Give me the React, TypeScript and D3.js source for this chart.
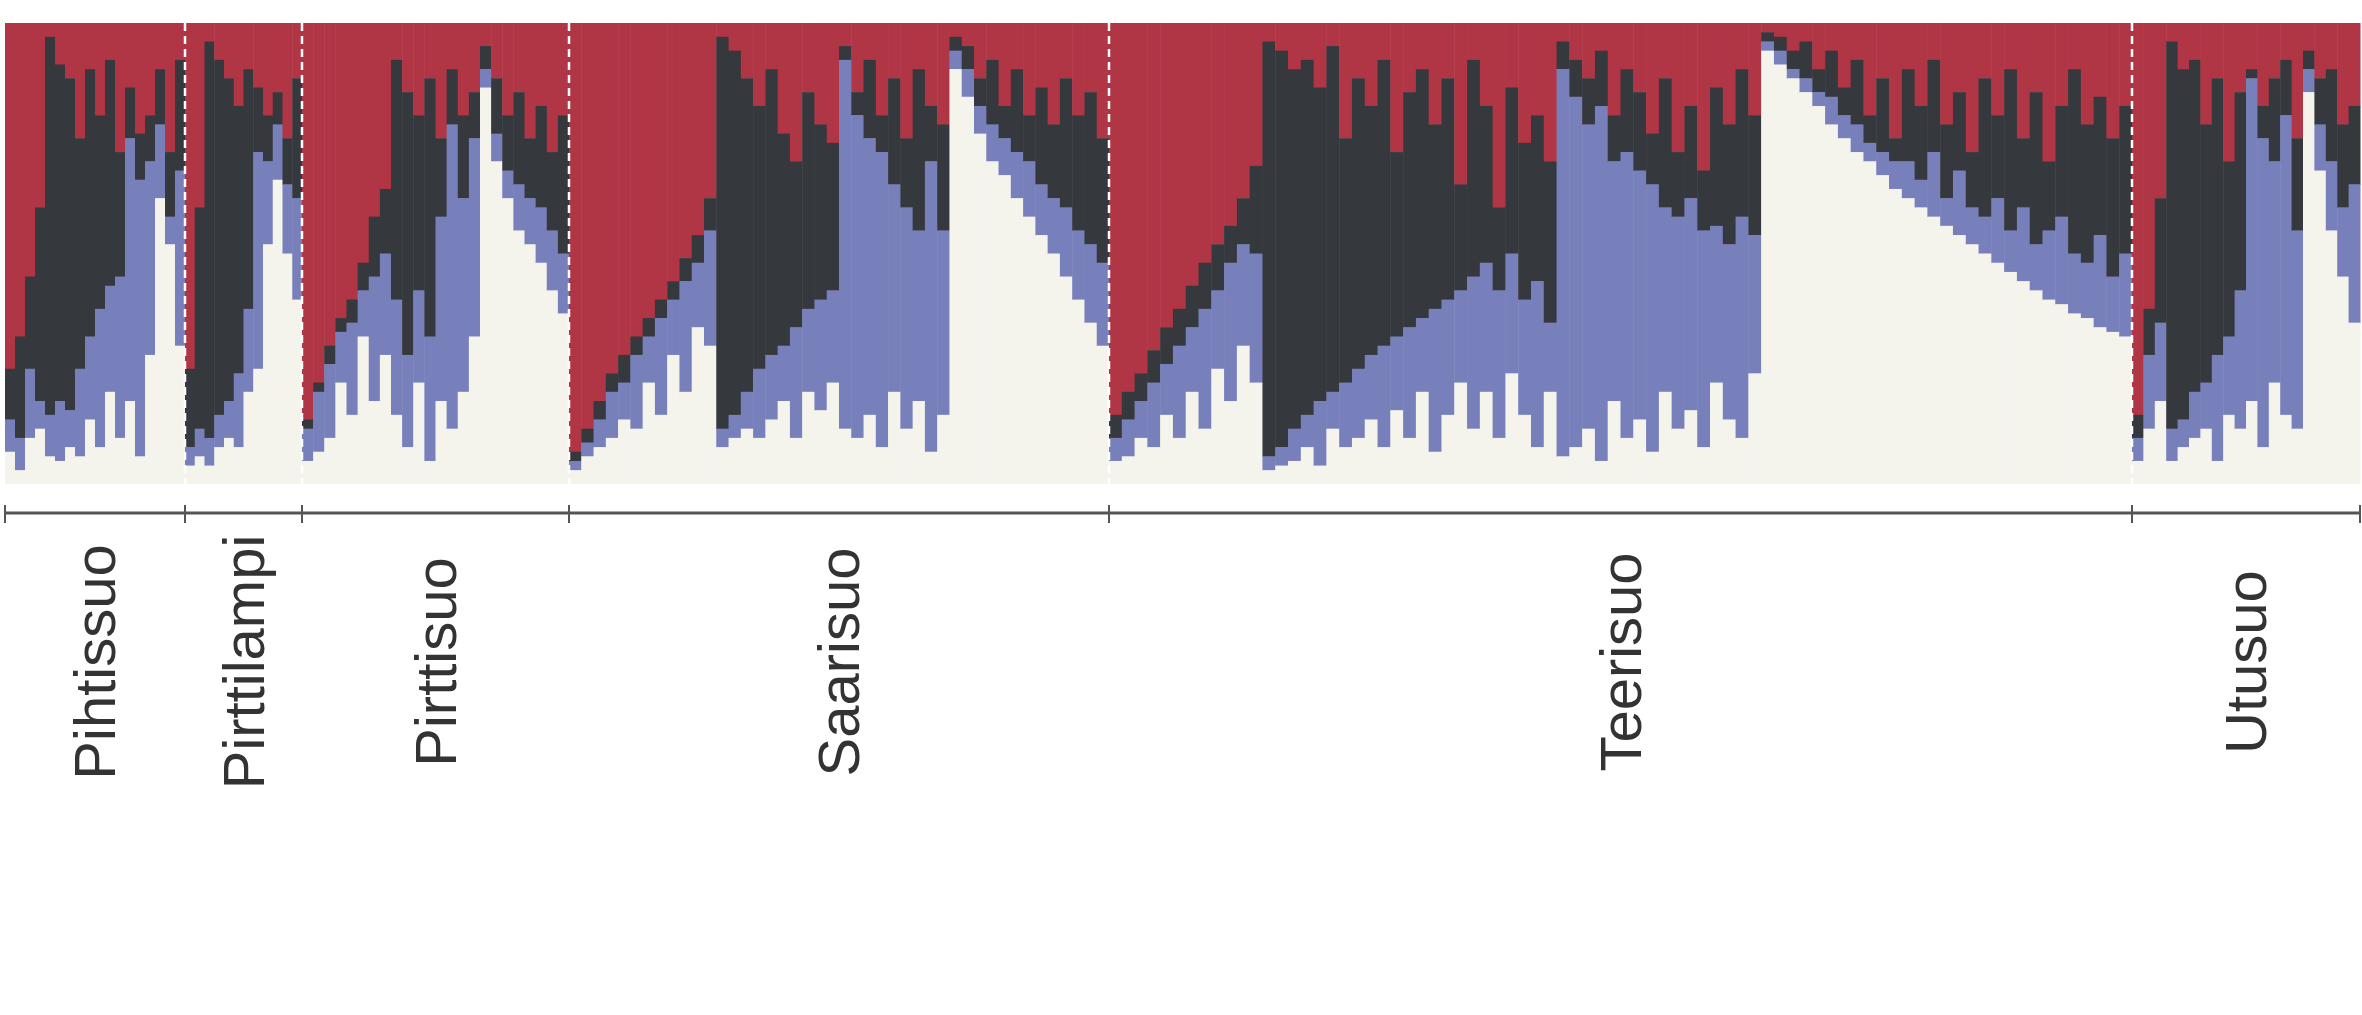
import { useEffect, useRef } from 'react';
import * as d3 from 'd3';

// populations and their sample sizes (individuals)
const populations = ['Pihtissuo', 'Pirttilampi', 'Pirttisuo', 'Saarisuo', 'Teerisuo', 'Utusuo'];
const sampleSizes = [60, 39, 89, 180, 341, 76];

// ancestry proportions (%) per plotted bar: [red, dark, blue], cream = remainder
const pihtissuo = [[75,11,7],[68,22,7],[55,20,15],[40,42,6],[3,82,9],[9,73,13],[12,72,8],[25,50,19],[10,58,18],[20,42,30],[8,49,23],[28,27,35],[14,11,57],[24,10,60],[20,10,42],[10,12,16],[28,14,6],[8,24,38]];
const pirttilampi = [[75,17,4],[40,48,6],[4,86,6],[8,77,7],[12,70,8],[18,58,16],[10,52,18],[14,14,47],[20,10,18],[15,7,12],[25,10,15],[12,26,22]];
const pirttisuo = [[86,2,7],[78,2,13],[70,4,16],[64,3,11],[60,5,20],[52,6,10],[42,13,27],[36,14,22],[8,52,25],[15,57,20],[20,38,20],[12,56,27],[25,17,40],[10,12,66],[20,18,42],[15,10,43],[5,5,4],[12,12,6],[20,12,6],[15,20,10],[25,13,10],[18,22,12],[28,17,13],[20,30,13]];
const saarisuo = [[93,2,2],[88,3,3],[82,4,6],[76,4,10],[72,6,8],[68,4,16],[64,4,10],[60,4,21],[56,4,12],[51,5,24],[46,6,14],[38,7,25],
  [3,85,4],[6,79,5],[12,68,8],[18,57,15],[10,62,14],[24,46,12],[30,36,24],[15,47,18],[22,38,24],[26,32,20],
  [5,3,80],[15,5,70],[8,17,60],[20,8,64],[12,23,45],[25,15,48],[10,35,37],[18,12,63],[22,23,40],
  [3,3,4],[5,5,6],[12,6,6],[8,14,8],[18,7,8],[10,18,10],[20,10,12],[14,21,11],[22,16,12],[12,28,15],[20,25,15],[15,33,17],[25,27,18]];
const teerisuo = [[85,5,5],[80,6,8],[76,6,8],[71,7,14],[66,8,11],[62,8,20],[57,9,14],[52,10,26],[48,10,17],[44,8,30],[38,10,22],[31,19,28],
  [4,90,3],[6,86,4],[10,78,7],[8,77,7],[14,68,14],[5,75,8],[25,53,14],[12,63,15],[18,54,14],[8,62,22],[28,40,16],[15,51,24],[10,54,16],[22,40,31],[12,48,25],[35,23,20],[8,47,33],[18,34,28],[40,18,32],[14,36,26],[26,34,25],[20,36,36],[30,35,15],
  [4,6,84],[8,8,76],[12,10,66],[6,12,77],[20,10,52],[10,18,62],[15,17,54],[24,11,58],[12,28,40],[28,14,46],[18,20,46],[32,13,47],[14,30,34],[22,26,38],[10,32,48],[20,26,30],
  [2,2,2],[3,3,3],[6,4,2],[4,8,3],[10,5,3],[6,10,6],[14,6,5],[8,14,6],[20,6,4],[12,16,5],[25,5,6],[10,20,8],[18,16,6],[8,20,14],[22,16,6],[15,17,14],[28,12,8],[12,30,8],[20,18,14],[10,35,9],[25,15,16],[15,33,10],[30,15,15],[18,24,19],[10,40,13],[22,30,12],[16,30,20],[25,30,12],[18,32,18]];
const utusuo = [[85,5,5],[62,10,16],[38,27,17],[4,84,7],[10,76,6],[8,72,10],[22,56,10],[12,60,23],[30,38,17],[15,43,30],[10,2,70],[18,7,67],[12,18,48],[8,12,65],[25,20,43],[6,4,5],[12,10,10],[10,20,15],[22,18,15],[18,17,30]];

const popBars = [pihtissuo, pirttilampi, pirttisuo, saarisuo, teerisuo, utusuo];
const colors = ['#b03545', '#35383c', '#7880bc', '#f4f3ec'];

export default function App() {
  const ref = useRef<SVGSVGElement>(null);

  useEffect(() => {
    document.body.style.margin = '0';
    if (!ref.current) return;
    const svg = d3.select(ref.current);
    svg.selectAll('*').remove();

    const margin = { left: 5, right: 2, top: 23 };
    const plotH = 461;
    const W = 2362;
    const total = d3.sum(sampleSizes);
    const x = d3.scaleLinear().domain([0, total]).range([margin.left, W - margin.right]);
    const y = d3.scaleLinear().domain([0, 100]).range([margin.top, margin.top + plotH]);

    const starts = d3.cumsum([0, ...sampleSizes]);
    const g = svg.append('g');

    popBars.forEach((bars, p) => {
      const n = bars.length;
      const w = sampleSizes[p] / n;
      bars.forEach((b, i) => {
        const x0 = starts[p] + i * w;
        const vals = [b[0], b[1], b[2], 100 - b[0] - b[1] - b[2]];
        let cum = 0;
        vals.forEach((v, k) => {
          g.append('rect')
            .attr('x', x(x0))
            .attr('width', x(x0 + w) - x(x0) + 0.5)
            .attr('y', y(cum))
            .attr('height', y(cum + v) - y(cum) + (k < 3 ? 0.5 : 0))
            .attr('fill', colors[k]);
          cum += v;
        });
      });
    });

    // dashed separators
    starts.slice(1, -1).forEach((s) => {
      g.append('line')
        .attr('x1', x(s)).attr('x2', x(s))
        .attr('y1', y(0)).attr('y2', y(100))
        .attr('stroke', '#fff').attr('stroke-width', 2.5)
        .attr('stroke-dasharray', '8,5');
    });

    // axis
    const axisY = 513;
    g.append('line')
      .attr('x1', x(0)).attr('x2', x(total))
      .attr('y1', axisY).attr('y2', axisY)
      .attr('stroke', '#555').attr('stroke-width', 3);
    starts.forEach((s) => {
      g.append('line')
        .attr('x1', x(s)).attr('x2', x(s))
        .attr('y1', axisY - 8).attr('y2', axisY + 10)
        .attr('stroke', '#555').attr('stroke-width', 2);
    });

    populations.forEach((name, p) => {
      const cx = x(starts[p] + sampleSizes[p] / 2);
      g.append('text')
        .attr('transform', `translate(${cx + 20},662) rotate(-90)`)
        .attr('text-anchor', 'middle')
        .attr('font-family', 'Liberation Sans, Arial, sans-serif')
        .attr('font-size', 58)
        .attr('fill', '#333')
        .text(name);
    });
  }, []);

  return <svg ref={ref} width={2362} height={1015} style={{ display: 'block', background: '#fff' }}></svg>;
}
